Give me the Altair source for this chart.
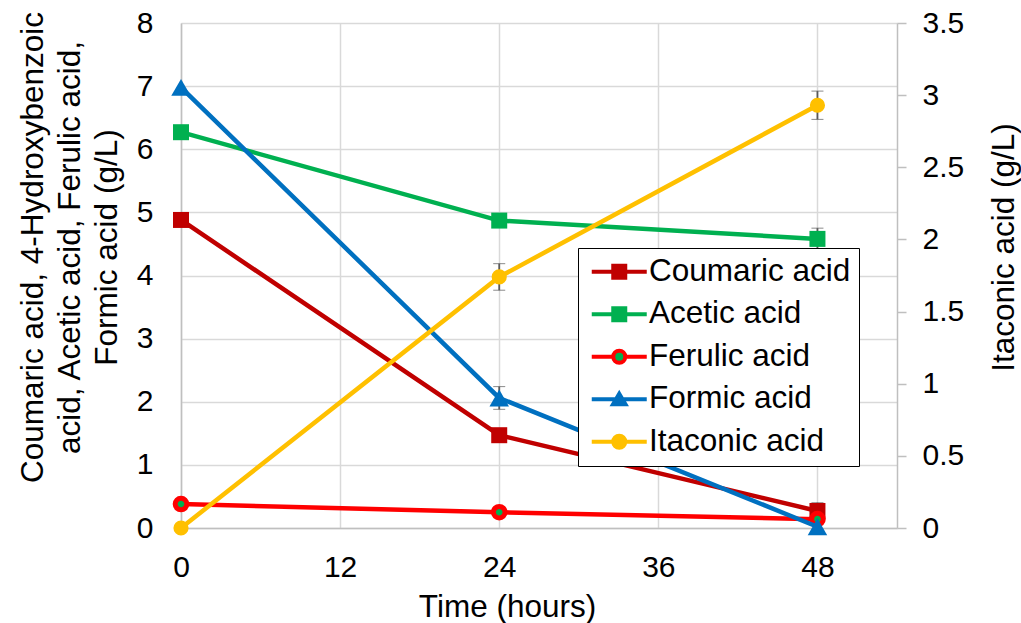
import altair as alt
import pandas as pd

# ---------------- data ----------------
time_h = [0, 24, 48]
series_names = ["Coumaric acid", "Acetic acid", "Ferulic acid", "Formic acid", "Itaconic acid"]

coumaric = [4.88, 1.47, 0.27]
coumaric_err = [0.0, 0.0, 0.13]
acetic = [6.27, 4.87, 4.58]
acetic_err = [0.0, 0.0, 0.17]
ferulic = [0.38, 0.25, 0.14]
ferulic_err = [0.0, 0.0, 0.0]
formic = [6.98, 2.06, 0.02]
formic_err = [0.0, 0.18, 0.0]
itaconic = [0.0, 1.74, 2.93]          # right axis
itaconic_err = [0.0, 0.092, 0.098]

x_ticks = [0, 12, 24, 36, 48]
left_ticks = [0, 1, 2, 3, 4, 5, 6, 7, 8]
right_ticks = [0, 0.5, 1, 1.5, 2, 2.5, 3, 3.5]

line_colors = ["#C00000", "#00B050", "#FF0000", "#0070C0", "#FFC000"]
fill_colors = ["#C00000", "#00B050", "#00B050", "#0070C0", "#FFC000"]

values = {"Coumaric acid": (coumaric, coumaric_err),
          "Acetic acid": (acetic, acetic_err),
          "Ferulic acid": (ferulic, ferulic_err),
          "Formic acid": (formic, formic_err),
          "Itaconic acid": (itaconic, itaconic_err)}

rows = []
for name in series_names:
    v, e = values[name]
    for t, val, err in zip(time_h, v, e):
        rows.append({"time": t, "value": val, "err": err, "lo": val - err,
                     "hi": val + err, "series": name})
df = pd.DataFrame(rows)

FONT = "Liberation Sans"
GRID = "#D9D9D9"
AXIS = "#BFBFBF"

x_axis = alt.Axis(values=x_ticks, title="Time (hours)", grid=True, gridColor=GRID,
                  gridWidth=1.5, domainColor=AXIS, domainWidth=1.5, ticks=False, tickSize=0,
                  labelFont=FONT, labelFontSize=30, labelColor="black", labelPadding=48,
                  labelBaseline="alphabetic", labelFlush=False, labelOverlap=False,
                  titleFont=FONT, titleFontSize=31.5, titleFontWeight="normal",
                  titleColor="black", titleX=326, titleY=88, titleBaseline="alphabetic",
                  titleAlign="center")
X = alt.X("time:Q", scale=alt.Scale(domain=[0, 54], nice=False, zero=False), axis=x_axis)

left_axis = alt.Axis(values=left_ticks, grid=True, gridColor=GRID, gridWidth=1.5,
                     domainColor=AXIS, domainWidth=1.5, ticks=False, tickSize=0,
                     labelFont=FONT, labelFontSize=30, labelColor="black", labelPadding=28,
                     labelOverlap=False, labelFlush=False,
                     title=["Coumaric acid, 4-Hydroxybenzoic", "acid, Acetic acid, Ferulic acid,",
                            "Formic acid (g/L)"],
                     titleFont=FONT, titleFontSize=31.5, titleFontWeight="normal",
                     titleColor="black", titleAngle=270, titleX=-139, titleY=224,
                     titleBaseline="alphabetic", titleAlign="center", titleLineHeight=37)
left_scale = alt.Scale(domain=[0, 8], nice=False)

right_axis = alt.Axis(values=right_ticks, orient="right", grid=False, format="~g",
                      domainColor=AXIS, domainWidth=1.5, ticks=True, tickColor=AXIS,
                      tickWidth=1.5, tickSize=9, labelFont=FONT, labelFontSize=30,
                      labelColor="black", labelPadding=16, labelOverlap=False, labelFlush=False,
                      title="Itaconic acid (g/L)", titleFont=FONT, titleFontSize=31.5,
                      titleFontWeight="normal", titleColor="black", titleAngle=270,
                      titleX=116, titleY=224, titleBaseline="alphabetic", titleAlign="center")
right_scale = alt.Scale(domain=[0, 3.5], nice=False)


def series_layers(name, color, scale, axis):
    d = df[df["series"] == name]
    Y = alt.Y("value:Q", scale=scale, axis=axis)
    layers = []
    de = d[d["err"] > 0]
    if len(de):
        layers.append(
            alt.Chart(de).mark_errorbar(
                ticks={"size": 12, "color": "#595959", "strokeWidth": 1.8},
                rule={"color": "#595959", "strokeWidth": 1.8},
            ).encode(x=X, y=alt.Y("lo:Q", scale=scale, axis=axis), y2="hi:Q")
        )
    layers.append(alt.Chart(d).mark_line(color=color, strokeWidth=4.5).encode(x=X, y=Y))
    if name in ("Coumaric acid", "Acetic acid"):
        pts = alt.Chart(d).mark_point(shape="square", filled=True, size=256, color=color,
                                      opacity=1)
    elif name == "Ferulic acid":
        pts = alt.Chart(d).mark_point(shape="circle", filled=True, size=135, fill="#00B050",
                                      stroke="#FF0000", strokeWidth=5, opacity=1)
    elif name == "Formic acid":
        pts = alt.Chart(d).mark_point(shape="triangle-up", filled=True, size=380, color=color,
                                      opacity=1)
    else:
        pts = alt.Chart(d).mark_point(shape="circle", filled=True, size=230, color=color,
                                      opacity=1)
    layers.append(pts.encode(x=X, y=Y))
    return layers


# legend symbols: line + marker as custom paths (unit = 10 px, symbol size 400)
sq = "M-2.75,0H2.75M-0.6,-0.6H0.6V0.6H-0.6Z"
tri = "M-2.75,0H2.75M0,-0.55L0.62,0.5H-0.62Z"
ring = ("M-2.75,0H-0.6M0.6,0H2.75M-0.6,0A0.6,0.6,0,1,1,0.6,0"
        "A0.6,0.6,0,1,1,-0.6,0Z")
circ = "M-2.75,0H2.75M-0.6,0A0.6,0.6,0,1,1,0.6,0A0.6,0.6,0,1,1,-0.6,0Z"
legend_paths = [sq, sq, ring, tri, circ]

leg = alt.Legend(orient="none", legendX=397, legendY=225, title=None, labelFont=FONT,
                 labelFontSize=31.5, labelColor="black", symbolSize=400, symbolStrokeWidth=4,
                 symbolOpacity=1, symbolOffset=17.5, labelOffset=14, padding=8,
                 rowPadding=9.5, strokeColor="black", fillColor="white", labelLimit=500)

legend_df = pd.DataFrame({"series": series_names, "time": [0] * 5, "value": [0] * 5})
legend_layer = alt.Chart(legend_df).mark_point(filled=True, opacity=0).encode(
    x=X,
    y=alt.Y("value:Q", scale=left_scale, axis=left_axis),
    fill=alt.Fill("series:N", scale=alt.Scale(domain=series_names, range=fill_colors),
                  legend=leg, sort=series_names),
    stroke=alt.Stroke("series:N", scale=alt.Scale(domain=series_names, range=line_colors),
                      legend=leg, sort=series_names),
    shape=alt.Shape("series:N", scale=alt.Scale(domain=series_names, range=legend_paths),
                    legend=leg, sort=series_names),
)

left_layers = []
for name, col in zip(series_names[:4], line_colors[:4]):
    left_layers += series_layers(name, col, left_scale, left_axis)
left_layers.append(legend_layer)
left = alt.layer(*left_layers)

right = alt.layer(*series_layers("Itaconic acid", line_colors[4], right_scale, right_axis))

chart = (
    alt.layer(left, right)
    .resolve_scale(y="independent")
    .properties(width=716, height=505, autosize="none",
                padding={"left": 181, "top": 23, "right": 124, "bottom": 95},
                background="white")
    .configure_view(stroke=None)
)

chart.save("out.html", embed_options={"renderer": "svg", "actions": False})
